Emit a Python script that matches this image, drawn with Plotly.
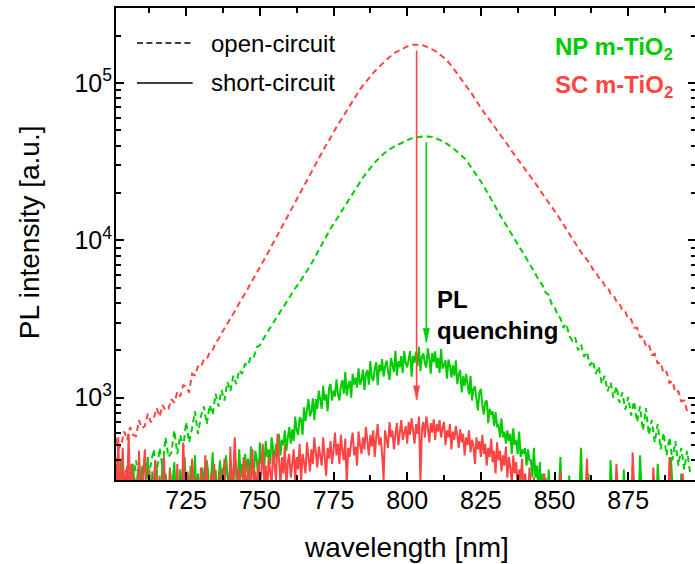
import math
import plotly.graph_objects as go

# ---------------- data ----------------
# open-circuit spectra sampled every 1 nm, short-circuit spectra every 0.5 nm
wavelength = list(range(701, 897))
wavelength_fine = [701 + 0.5 * i for i in range(392)]

# SC m-TiO2, open-circuit (red dashed)
sc_open = [
    560, 470, 505, 610, 540, 650, 580, 570, 720, 640,
    660, 790, 700, 740, 860, 760, 900, 830, 850, 980,
    930, 1090, 1020, 1200, 1180, 1080, 1420, 1390, 1580, 1560,
    1750, 1760, 1950, 2010, 2240, 2360, 2570, 2750, 2950, 3160,
    3430, 3670, 3980, 4270, 4570, 4960, 5370, 5750, 6240, 6760,
    7240, 7850, 8510, 9230, 10000, 10800, 11700, 12700, 13800, 15000,
    16200, 17600, 19100, 20700, 22400, 24300, 26300, 28200, 30500, 33100,
    35900, 38900, 41700, 45200, 48400, 52500, 56200, 60300, 64600, 70000,
    75000, 80400, 86100, 91200, 96600, 102000, 107000, 114000, 119000, 124000,
    130000, 136000, 141000, 146000, 151000, 157000, 160000, 164000, 168000, 171000,
    173000, 175000, 175000, 175000, 174000, 172000, 169000, 166000, 162000, 158000,
    153000, 148000, 142000, 136000, 129000, 122000, 115000, 108000, 102000, 96600,
    91200, 85100, 79400, 74100, 69200, 65300, 61700, 58200, 55000, 51900,
    49000, 46200, 43200, 40700, 38000, 35900, 33900, 31600, 29900, 28200,
    26600, 25100, 23700, 22400, 20900, 19700, 18600, 17400, 16400, 15500,
    14500, 13500, 12600, 11700, 11000, 10200, 9550, 8910, 8410, 7940,
    7500, 7150, 6550, 6300, 5800, 5650, 5150, 5050, 4600, 4500,
    4100, 3980, 3600, 3550, 3150, 3150, 2780, 2780, 2430, 2450,
    2130, 2180, 1870, 1900, 1650, 1680, 1430, 1460, 1240, 1280,
    1080, 1100, 950, 960, 820, 830,
]

# NP m-TiO2, open-circuit (green dashed)
np_open = [
    240, 350, 290, 250, 370, 310, 280, 400, 300, 360,
    420, 300, 380, 470, 330, 480, 360, 560, 420, 450,
    620, 440, 580, 480, 700, 520, 640, 820, 590, 760,
    880, 680, 900, 780, 1060, 880, 1120, 960, 1260, 1100,
    1380, 1220, 1500, 1420, 1640, 1600, 1840, 1820, 2100, 2150,
    2330, 2520, 2690, 2880, 3090, 3310, 3550, 3800, 4070, 4370,
    4680, 4960, 5250, 5620, 5960, 6310, 6840, 7410, 8040, 8710,
    9440, 10200, 11100, 11900, 12700, 13600, 14600, 15700, 16800, 18000,
    19300, 20700, 22100, 23700, 25100, 26600, 28200, 29900, 31300, 32700,
    34300, 35500, 36700, 38000, 38900, 39800, 40700, 41700, 42700, 43500,
    44200, 44700, 45200, 45500, 45700, 45800, 45800, 45600, 45200, 44500,
    43700, 42700, 41700, 40700, 39400, 38000, 36700, 35500, 33900, 32400,
    30500, 28800, 27200, 25400, 23700, 22100, 20400, 19100, 17600, 16200,
    15100, 14000, 13000, 12200, 11200, 10500, 9770, 9120, 8510, 7940,
    7330, 6840, 6380, 5890, 5450, 5150, 4650, 4500, 3950, 3800,
    3350, 3200, 2780, 2950, 2480, 2300, 2420, 2000, 2180, 1820,
    1950, 1600, 1720, 1420, 1580, 1230, 1380, 1100, 1250, 1000,
    1180, 930, 1080, 840, 1010, 770, 950, 700, 880, 620,
    860, 580, 720, 520, 680, 470, 600, 430, 560, 400,
    530, 370, 480, 350, 460, 330,
]

# NP m-TiO2, short-circuit (green solid), 0.5 nm steps
np_short = [
    260, 340, 190, 300, 410, 230, 280, 170, 350, 260,
    310, 200, 380, 270, 230, 330, 160, 290, 360, 240,
    200, 310, 420, 260, 180, 340, 280, 230, 370, 190,
    300, 250, 410, 210, 330, 280, 170, 360, 240, 300,
    390, 220, 270, 180, 350, 300, 240, 420, 260, 320,
    200, 370, 290, 250, 430, 210, 330, 280, 190, 360,
    300, 240, 400, 330, 210, 290, 450, 260, 350, 230,
    310, 400, 280, 360, 220, 430, 330, 270, 380, 300,
    250, 420, 350, 290, 470, 310, 380, 260, 440, 340,
    410, 300, 490, 370, 330, 460, 400, 290, 520, 380,
    440, 360, 530, 420, 470, 380, 560, 450, 400, 510,
    470, 590, 430, 540, 500, 620, 460, 560, 650, 510,
    630, 530, 760, 620, 580, 750, 730, 580, 870, 710,
    860, 980, 760, 810, 990, 720, 980, 850, 1110, 940,
    850, 1190, 960, 1050, 820, 1150, 1220, 960, 1110, 1020,
    1310, 1060, 960, 1190, 1290, 1060, 1460, 1030, 1200, 1280,
    1000, 1420, 1210, 1340, 1160, 1540, 1210, 1290, 1510, 1120,
    1420, 1500, 1210, 1710, 1340, 1280, 1540, 1680, 1200, 1620,
    1470, 1760, 1360, 1570, 1720, 1470, 1300, 1790, 1620, 1460,
    1990, 1380, 1710, 1560, 1840, 1440, 1980, 1660, 1560, 1820,
    1980, 1360, 1840, 1670, 1960, 1580, 2110, 1480, 1820, 1910,
    1650, 1560, 2060, 1800, 1420, 1930, 1680, 1970, 1550, 1790,
    1440, 2040, 1530, 1610, 1730, 1320, 1750, 1610, 1340, 1610,
    1380, 1730, 1220, 1410, 1500, 1080, 1370, 1190, 1420, 1210,
    1050, 1380, 960, 1140, 1180, 980, 830, 1080, 1140, 900,
    780, 940, 960, 690, 850, 780, 820, 660, 810, 660,
    670, 560, 740, 560, 610, 510, 620, 530, 590, 440,
    640, 500, 540, 440, 610, 420, 470, 440, 480, 370,
    470, 400, 400, 310, 480, 310, 370, 270, 390, 250,
    330, 200, 310, 180, 350, 240, 160, 290, 220, 300,
    190, 260, 420, 210, 170, 280, 230, 150, 320, 200,
    240, 170, 300, 210, 160, 270, 480, 220, 180, 250,
    200, 330, 170, 240, 190, 150, 280, 210, 260, 170,
    220, 160, 300, 190, 250, 170, 400, 230, 180, 210,
    160, 260, 190, 230, 170, 350, 200, 150, 240, 180,
    210, 170, 280, 160, 220, 190, 430, 240, 170, 200,
    250, 180, 160, 300, 210, 190, 270, 170, 380, 220,
    180, 240, 160, 210, 290, 170, 200, 420, 230, 180,
    160, 260, 210, 180, 330, 200, 170, 250, 190, 280,
    220, 170,
]

# SC m-TiO2, short-circuit (red solid), 0.5 nm steps
sc_short = [
    420, 230, 560, 180, 300, 480, 200, 350, 260, 590,
    220, 380, 170, 310, 250, 190, 460, 280, 160, 330,
    470, 240, 190, 350, 210, 160, 290, 400, 180, 260,
    320, 170, 240, 420, 200, 280, 160, 350, 230, 190,
    300, 180, 380, 220, 260, 170, 520, 290, 200, 340,
    230, 170, 410, 260, 190, 310, 220, 170, 360, 250,
    190, 430, 280, 200, 170, 330, 240, 380, 180, 290,
    220, 350, 170, 260, 410, 200, 300, 180, 490, 270,
    330, 560, 240, 190, 360, 280, 220, 420, 310, 250,
    390, 200, 300, 470, 260, 340, 220, 400, 280, 330,
    510, 290, 370, 240, 420, 330, 280, 460, 350, 300,
    590, 360, 280, 420, 330, 500, 270, 390, 440, 310,
    380, 470, 300, 420, 350, 510, 290, 440, 390, 330,
    520, 400, 340, 470, 380, 560, 430, 360, 490, 410,
    370, 560, 430, 320, 480, 410, 530, 380, 460, 600,
    430, 510, 380, 580, 460, 400, 550, 280, 480, 420,
    520, 600, 430, 490, 370, 610, 500, 440, 560, 470,
    650, 510, 430, 580, 490, 620, 420, 560, 680, 500,
    560, 440, 300, 620, 530, 480, 700, 560, 620, 470,
    580, 690, 500, 620, 720, 540, 600, 660, 510, 700,
    580, 740, 620, 510, 680, 590, 760, 290, 640, 700,
    560, 760, 650, 520, 690, 600, 730, 540, 680, 610,
    720, 560, 640, 700, 500, 620, 560, 680, 470, 610,
    540, 660, 580, 480, 630, 520, 590, 430, 560, 500,
    620, 450, 540, 490, 380, 560, 470, 530, 420, 580,
    440, 510, 370, 480, 420, 550, 390, 460, 330, 520,
    400, 460, 340, 430, 370, 490, 310, 420, 360, 290,
    430, 330, 390, 260, 350, 300, 410, 240, 330, 280,
    220, 360, 260, 190, 310, 230, 280, 170, 300, 210,
    180, 330, 240, 200, 160, 290, 220, 170, 260, 190,
    230, 170, 340, 200, 160, 250, 190, 290, 170, 220,
    180, 260, 160, 210, 300, 170, 230, 190, 160, 240,
    410, 200, 170, 230, 160, 280, 210, 190, 170, 250,
    200, 160, 220, 180, 260, 170, 190, 240, 160, 210,
    380, 190, 160, 230, 170, 210, 260, 180, 160, 220,
    170, 450, 200, 160, 240, 190, 170, 280, 210, 160,
    280, 190, 170, 230, 160, 360, 210, 180, 240, 170,
    200, 260, 160, 220, 180, 190, 420, 230, 170, 200,
    240, 170, 290, 200, 160, 330, 190, 220, 260, 180,
    240, 200,
]

assert len(sc_open) == len(np_open) == len(wavelength)
assert len(np_short) == len(sc_short) == len(wavelength_fine)

x_ticks = [725, 750, 775, 800, 825, 850, 875]
y_ticks = [1e3, 1e4, 1e5]
y_ticktext = ["10<sup>3</sup>", "10<sup>4</sup>", "10<sup>5</sup>"]
y_minor = [400, 500, 600, 700, 800, 900,
           2000, 3000, 4000, 5000, 6000, 7000, 8000, 9000,
           20000, 30000, 40000, 50000, 60000, 70000, 80000, 90000,
           200000, 300000]

# PL-quenching arrows: wavelength, start intensity, tip intensity
arrow_x = [803.2, 806.5]
arrow_top = [161000, 42000]
arrow_tip = [971, 2250]

RED = "#FF4444"
GREEN = "#00CC00"
FONT = "Liberation Sans, Arial, Helvetica, sans-serif"

# ---------------- layout geometry (pixels) ----------------
W, H = 698, 564
L, R, T, B = 116, 698, 8, 480


def pxx(px):
    return (px - L) / (R - L)


def pxy(py):
    return (B - py) / (B - T)


fig = go.Figure()
series = [
    (wavelength, sc_open, RED, "6px,4px"),
    (wavelength, np_open, GREEN, "6px,4px"),
    (wavelength_fine, np_short, GREEN, "solid"),
    (wavelength_fine, sc_short, RED, "solid"),
]
for xs, vals, col, dash in series:
    fig.add_trace(go.Scatter(
        x=xs, y=vals, mode="lines",
        line=dict(color=col, width=2, dash=dash),
        showlegend=False, hoverinfo="skip",
    ))

shapes = []
# legend keys
shapes.append(dict(type="line", xref="paper", yref="paper",
                   x0=pxx(137), x1=pxx(193), y0=pxy(43), y1=pxy(43),
                   line=dict(color="black", width=1.6, dash="6px,3.5px")))
shapes.append(dict(type="line", xref="paper", yref="paper",
                   x0=pxx(137), x1=pxx(193), y0=pxy(83), y1=pxy(83),
                   line=dict(color="black", width=1.6)))
# arrows
for ax_, top, tip, col in zip(arrow_x, arrow_top, arrow_tip, [RED, GREEN]):
    shapes.append(dict(type="line", xref="x", yref="y",
                       x0=ax_, x1=ax_, y0=top, y1=tip,
                       line=dict(color=col, width=1.6)))
    shapes.append(dict(type="path", xref="x", yref="y",
                       xsizemode="pixel", ysizemode="pixel",
                       xanchor=ax_, yanchor=tip,
                       path="M-3.2,14 L3.2,14 L0,0 Z",
                       fillcolor=col, line=dict(color=col, width=0.5)))

annotations = [
    dict(text="open-circuit", x=pxx(209), y=pxy(43), xref="paper", yref="paper",
         xanchor="left", yanchor="middle", showarrow=False,
         font=dict(size=24, color="black", family=FONT)),
    dict(text="short-circuit", x=pxx(209), y=pxy(82), xref="paper", yref="paper",
         xanchor="left", yanchor="middle", showarrow=False,
         font=dict(size=24, color="black", family=FONT)),
    dict(text="<b>NP m-TiO<sub>2</sub></b>", x=pxx(555), y=pxy(48), xref="paper", yref="paper",
         xanchor="left", yanchor="middle", showarrow=False,
         font=dict(size=24, color=GREEN, family=FONT)),
    dict(text="<b>SC m-TiO<sub>2</sub></b>", x=pxx(555), y=pxy(86), xref="paper", yref="paper",
         xanchor="left", yanchor="middle", showarrow=False,
         font=dict(size=24, color=RED, family=FONT)),
    dict(text="<b>PL</b><br><b>quenching</b>", x=pxx(436), y=pxy(315), xref="paper", yref="paper",
         xanchor="left", yanchor="middle", align="left", showarrow=False,
         font=dict(size=24, color="black", family=FONT)),
    dict(text="wavelength [nm]", x=pxx(408), y=pxy(547), xref="paper", yref="paper",
         xanchor="center", yanchor="middle", showarrow=False,
         font=dict(size=28, color="black", family=FONT)),
    dict(text="PL intensity [a.u.]", x=pxx(30), y=pxy(232), xref="paper", yref="paper",
         xanchor="center", yanchor="middle", textangle=-90, showarrow=False,
         font=dict(size=28, color="black", family=FONT)),
]

fig.update_layout(
    width=W, height=H,
    margin=dict(l=L, r=W - R, t=T, b=H - B, pad=0),
    plot_bgcolor="white", paper_bgcolor="white",
    font=dict(family=FONT, color="black"),
    shapes=shapes, annotations=annotations,
    showlegend=False,
    xaxis=dict(
        range=[701.2, 898], showgrid=False, zeroline=False,
        showline=True, linecolor="black", linewidth=2, mirror="ticks",
        ticks="inside", ticklen=8, tickwidth=2, tickcolor="black",
        tickmode="array", tickvals=x_ticks,
        tickfont=dict(size=25, family=FONT, color="black"),
        ticklabelstandoff=-3,
        minor=dict(ticks="inside", ticklen=5, tickwidth=1.5, tickcolor="black",
                   tickmode="linear", tick0=700, dtick=12.5, showgrid=False),
    ),
    yaxis=dict(
        type="log", range=[math.log10(300), math.log10(300000)],
        showgrid=False, zeroline=False,
        showline=True, linecolor="black", linewidth=2, mirror="ticks",
        ticks="inside", ticklen=8, tickwidth=2, tickcolor="black",
        tickmode="array", tickvals=y_ticks, ticktext=y_ticktext,
        tickfont=dict(size=25, family=FONT, color="black"),
        ticklabelstandoff=-3,
        minor=dict(ticks="inside", ticklen=5, tickwidth=1.5, tickcolor="black",
                   tickmode="array", tickvals=y_minor, showgrid=False),
    ),
)

fig.write_html(
    "out.html",
    post_script="document.documentElement.style.overflow='hidden';document.body.style.overflow='hidden';",
)
